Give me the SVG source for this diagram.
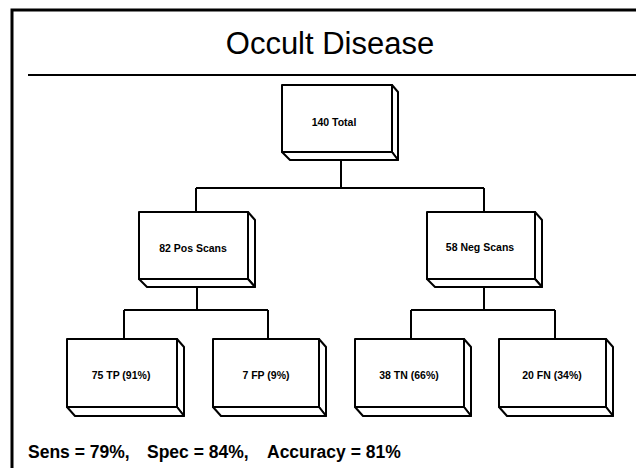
<svg xmlns="http://www.w3.org/2000/svg" width="636" height="468" viewBox="0 0 636 468">
<style>
.frame{fill:none;stroke:#000;stroke-width:3}
.rule{fill:none;stroke:#000;stroke-width:2}
.face{fill:#fff;stroke:#000;stroke-width:2;stroke-linejoin:round}
.side{fill:#fff;stroke:#000;stroke-width:2;stroke-linejoin:round}
.conn{fill:none;stroke:#000;stroke-width:2}
.title{font-family:"Liberation Sans",Arial,sans-serif;font-size:31px;fill:#000}
.lbl{font-family:"Liberation Sans",Arial,sans-serif;font-size:10.5px;font-weight:bold;fill:#000;text-anchor:middle}
.foot{font-family:"Liberation Sans",Arial,sans-serif;font-size:17.5px;font-weight:bold;fill:#000}
</style>
<rect width="636" height="468" fill="#fff"/>
<g id="frame">
<path class="frame" d="M12,468 V10 H636"/>
<path class="rule" d="M28,75 H636"/>
<text class="title" x="330" y="54" text-anchor="middle">Occult Disease</text>
</g>
<g id="connectors">
<path class="conn" d="M341,160 V188 M196,188 H484 M196,188 V212 M484,188 V212"/>
<path class="conn" d="M197,287 V310 M124,310 H268 M124,310 V339 M268,310 V339"/>
<path class="conn" d="M484,288 V310 M411,310 H555 M411,310 V339 M555,310 V339"/>
</g>
<g id="total">
<polygon class="side" points="392,85 398,92 398,160 392,152"/>
<polygon class="side" points="282,152 290,160 398,160 392,152"/>
<rect class="face" x="282" y="85" width="110" height="67"/>
<text class="lbl" x="334" y="126">140 Total</text>
</g>
<g id="pos">
<polygon class="side" points="248,212 255,220 255,287 248,279"/>
<polygon class="side" points="139,279 147,287 255,287 248,279"/>
<rect class="face" x="139" y="212" width="109" height="67"/>
<text class="lbl" x="193" y="252">82 Pos Scans</text>
</g>
<g id="neg">
<polygon class="side" points="535,212 542,220 542,287 535,279"/>
<polygon class="side" points="427,279 435,287 542,287 535,279"/>
<rect class="face" x="427" y="212" width="108" height="67"/>
<text class="lbl" x="480" y="251">58 Neg Scans</text>
</g>
<g id="tp">
<polygon class="side" points="177,339 184,347 184,416 177,407"/>
<polygon class="side" points="67,407 75,416 184,416 177,407"/>
<rect class="face" x="67" y="339" width="110" height="68"/>
<text class="lbl" x="121" y="379">75 TP (91%)</text>
</g>
<g id="fp">
<polygon class="side" points="319,339 326,347 326,416 319,407"/>
<polygon class="side" points="213,407 221,416 326,416 319,407"/>
<rect class="face" x="213" y="339" width="106" height="68"/>
<text class="lbl" x="266" y="379">7 FP (9%)</text>
</g>
<g id="tn">
<polygon class="side" points="464,339 471,347 471,416 464,407"/>
<polygon class="side" points="355,407 363,416 471,416 464,407"/>
<rect class="face" x="355" y="339" width="109" height="68"/>
<text class="lbl" x="409" y="379">38 TN (66%)</text>
</g>
<g id="fn">
<polygon class="side" points="606,339 613,347 613,416 606,407"/>
<polygon class="side" points="499,407 507,416 613,416 606,407"/>
<rect class="face" x="499" y="339" width="107" height="68"/>
<text class="lbl" x="552" y="379">20 FN (34%)</text>
</g>
<g id="footer">
<text class="foot" y="458"><tspan x="28">Sens = 79%,</tspan><tspan x="147">Spec = 84%,</tspan><tspan x="267">Accuracy = 81%</tspan></text>
</g>
</svg>
